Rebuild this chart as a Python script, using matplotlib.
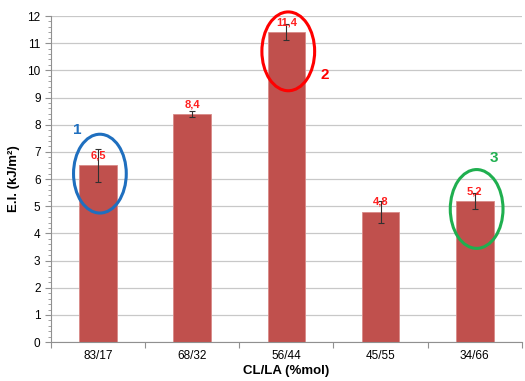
import numpy as np
import matplotlib.pyplot as plt
from matplotlib.patches import Ellipse
from matplotlib.ticker import MultipleLocator, FixedLocator

plt.rcParams['font.family'] = ['Liberation Sans', 'DejaVu Sans']

# data
ratios = ["83/17", "68/32", "56/44", "45/55", "34/66"]
impact = [6.5, 8.4, 11.4, 4.8, 5.2]
errors = [0.6, 0.1, 0.3, 0.4, 0.3]

# highlighted samples: bar index, colour, tag
marked_idx = [0, 2, 4]
marked_col = ["#1F6FBF", "#FF0000", "#1FAF4F"]
marked_tag = ["1", "2", "3"]

fig = plt.figure(figsize=(5.25, 3.81), dpi=100)
ax = fig.add_axes([0.097, 0.102, 0.897, 0.856])

x = np.arange(len(ratios))
ax.bar(x, impact, width=0.4, color="#C0504D", edgecolor="#D98A88", linewidth=0.6, zorder=2)
ax.errorbar(x, impact, yerr=errors, fmt="none", ecolor="#303030", elinewidth=0.8,
            capsize=2, capthick=0.8, zorder=3)

for xi, v in zip(x, impact):
    ax.annotate(f"{v:.1f}".replace(".", ","), (xi, v), xytext=(0, 7), textcoords="offset points",
                ha="center", va="center", color="#FF2020", fontsize=8, fontweight="bold", zorder=4)

# ellipse centre shift below the bar top, and tag positions
shift = {0: -0.3, 2: -0.7, 4: -0.3}
tag_pos = {0: (-0.22, 7.8), 2: (2.41, 9.83), 4: (4.2, 6.77)}
for i, c, t in zip(marked_idx, marked_col, marked_tag):
    e = Ellipse((i + 0.02, impact[i] + shift[i]), width=0.56, height=2.9,
                fill=False, edgecolor=c, linewidth=2.2, zorder=5, clip_on=False)
    ax.add_patch(e)
    tx, ty = tag_pos[i]
    ax.text(tx, ty, t, color=c, fontsize=11, fontweight="bold", ha="center", va="center")

ax.set_xlim(-0.5, len(ratios) - 0.5)
ax.set_ylim(0, 12)
ax.set_xticks(x)
ax.set_xticklabels(ratios, fontsize=8.5)
ax.xaxis.set_minor_locator(FixedLocator(np.arange(-0.5, len(ratios), 1.0)))
ax.tick_params(axis="x", which="major", length=0, pad=6)
ax.tick_params(axis="x", which="minor", length=4, color="#909090", width=0.8)

ax.yaxis.set_major_locator(MultipleLocator(1))
ax.yaxis.set_minor_locator(MultipleLocator(0.2))
ax.tick_params(axis="y", which="major", length=4, color="#909090", width=0.8, labelsize=8.5)
ax.tick_params(axis="y", which="minor", length=2, color="#909090", width=0.6)

ax.grid(axis="y", color="#C8C8C8", linewidth=0.9, zorder=0)
ax.set_axisbelow(True)
for s in ["top", "right"]:
    ax.spines[s].set_visible(False)
for s in ["left", "bottom"]:
    ax.spines[s].set_color("#909090")
    ax.spines[s].set_linewidth(0.8)

ax.set_xlabel("CL/LA (%mol)", fontsize=9.5, fontweight="bold", labelpad=2)
ax.set_ylabel("E.I. (kJ/m²)", fontsize=9.5, fontweight="bold", labelpad=5)

fig.savefig("out.png", dpi=100)
